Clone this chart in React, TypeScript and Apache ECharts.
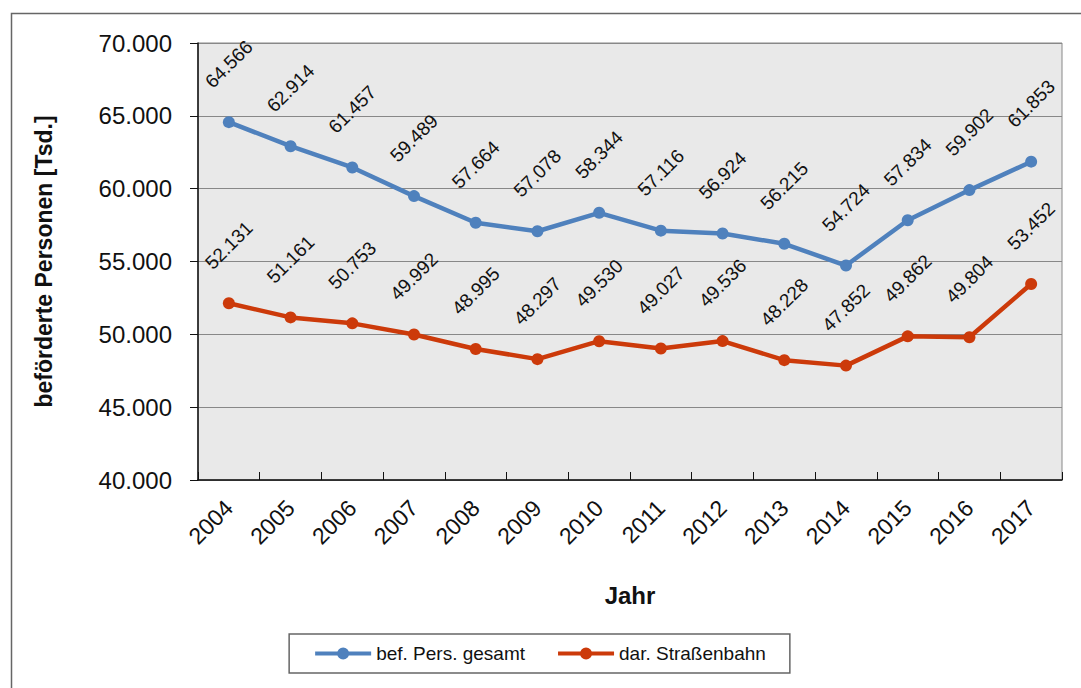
import React, { useEffect, useRef } from "react";
import * as echarts from "echarts";

const years = ["2004", "2005", "2006", "2007", "2008", "2009", "2010", "2011", "2012", "2013", "2014", "2015", "2016", "2017"];
const gesamt = [64566, 62914, 61457, 59489, 57664, 57078, 58344, 57116, 56924, 56215, 54724, 57834, 59902, 61853];
const strassenbahn = [52131, 51161, 50753, 49992, 48995, 48297, 49530, 49027, 49536, 48228, 47852, 49862, 49804, 53452];
const seriesNames = ["bef. Pers. gesamt", "dar. Straßenbahn"];

const FONT = "'Liberation Sans', Arial, sans-serif";
const BLUE = "#4F81BD";
const RED = "#CC3A0A";
const LEGEND_ICON = "path://M0,5 H56 V9 H0 Z M22,7 A6,6 0 1,1 34,7 A6,6 0 1,1 22,7 Z";

function fmt(v: number): string {
  const s = Math.round(v).toString();
  return s.replace(/\B(?=(\d{3})+(?!\d))/g, ".");
}

export default function App() {
  const ref = useRef<HTMLDivElement>(null);
  useEffect(() => {
    if (!ref.current) return;
    const chart = echarts.init(ref.current, null, { renderer: "svg" });
    const label = {
      show: true,
      position: "top" as const,
      distance: 52,
      rotate: 45,
      align: "center" as const,
      verticalAlign: "middle" as const,
      fontFamily: FONT,
      fontSize: 19,
      color: "#111",
      formatter: (p: any) => fmt(p.value),
    };
    chart.setOption({
      animation: false,
      backgroundColor: "#fff",
      textStyle: { fontFamily: FONT },
      graphic: [
        {
          type: "rect",
          left: 9,
          top: 11,
          shape: { width: 1200, height: 800 },
          style: { fill: "none", stroke: "#666", lineWidth: 1.5 },
          silent: true,
        },
      ],
      grid: {
        left: 198,
        top: 43,
        right: 19,
        bottom: 208,
        show: true,
        backgroundColor: "#E9E9E9",
        borderColor: "#888",
        borderWidth: 1,
      },
      legend: {
        data: seriesNames.map((n, i) => ({ name: n, icon: LEGEND_ICON, itemStyle: { color: i === 0 ? BLUE : RED } })),
        left: "center",
        top: 634,
        padding: [10, 24, 10, 26],
        itemGap: 33,
        itemWidth: 56,
        itemHeight: 14,
        backgroundColor: "#fff",
        borderColor: "#666",
        borderWidth: 1.5,
        textStyle: { fontFamily: FONT, fontSize: 19, color: "#111" },
      },
      xAxis: {
        type: "category",
        data: years,
        boundaryGap: true,
        name: "Jahr",
        nameLocation: "middle",
        nameGap: 103,
        nameTextStyle: { fontFamily: FONT, fontSize: 24, fontWeight: "bold", color: "#111" },
        axisLine: { lineStyle: { color: "#111", width: 1.5 } },
        axisTick: { show: true, inside: true, length: 8, lineStyle: { color: "#111" } },
        axisLabel: { rotate: 45, margin: 24, fontFamily: FONT, fontSize: 23, color: "#111" },
        splitLine: { show: false },
      },
      yAxis: {
        type: "value",
        min: 40000,
        max: 70000,
        interval: 5000,
        name: "beförderte Personen [Tsd.]",
        nameLocation: "middle",
        nameGap: 143,
        nameTextStyle: { fontFamily: FONT, fontSize: 23, fontWeight: "bold", color: "#111" },
        axisLine: { show: true, lineStyle: { color: "#111", width: 1.5 } },
        axisTick: { show: true, inside: false, length: 8, lineStyle: { color: "#111" } },
        axisLabel: { margin: 26, fontFamily: FONT, fontSize: 24, color: "#111", formatter: (v: number) => fmt(v) },
        splitLine: { show: true, lineStyle: { color: "#888", width: 1 } },
      },
      series: [
        {
          name: seriesNames[0],
          type: "line",
          data: gesamt,
          color: BLUE,
          lineStyle: { width: 4.5, color: BLUE },
          symbol: "circle",
          symbolSize: 12,
          itemStyle: { color: BLUE },
          label,
        },
        {
          name: seriesNames[1],
          type: "line",
          data: strassenbahn,
          color: RED,
          lineStyle: { width: 4.5, color: RED },
          symbol: "circle",
          symbolSize: 12,
          itemStyle: { color: RED },
          label,
        },
      ],
    });
    return () => chart.dispose();
  }, []);
  return <div ref={ref} style={{ position: "fixed", left: 0, top: 0, width: 1081, height: 688 }} />;
}
